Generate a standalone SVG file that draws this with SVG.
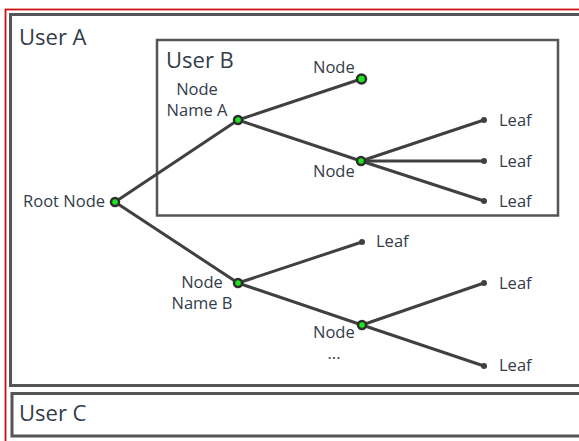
<svg xmlns="http://www.w3.org/2000/svg" width="579" height="441" viewBox="0 0 579 441">
<style>
  .frame{fill:none;stroke:#555;stroke-width:3}
  .inner{fill:none;stroke:#555;stroke-width:2.5}
  .hdr{font-family:"Open Sans","Noto Sans",sans-serif;font-size:22px;fill:#333c4a}
  .lbl{font-family:"Open Sans","Noto Sans",sans-serif;font-size:16.5px;fill:#333c4a}
  .edge{stroke:#404040;stroke-width:3;stroke-linecap:round;fill:none}
  .node{fill:#1ee61e;stroke:#2e2e2e;stroke-width:2.5}
  .leaf{fill:#404040}
</style>
<rect x="0" y="0" width="579" height="441" fill="#fff"/>
<rect x="5.5" y="9.5" width="620" height="480" fill="none" stroke="#cc1111" stroke-width="1.8"/>
<g id="userA">
  <rect class="frame" x="10.5" y="14.5" width="620" height="371"/>
  <text class="hdr" x="19" y="45">User A</text>
</g>
<g id="userB">
  <rect class="inner" x="157" y="40" width="401" height="175.5"/>
  <text class="hdr" x="166" y="68">User B</text>
</g>
<g id="userC">
  <rect class="frame" x="12" y="393.5" width="620" height="42.5"/>
  <text class="hdr" x="19" y="421">User C</text>
</g>
<g id="connectors">
  <line class="edge" x1="115" y1="202" x2="238" y2="120"/>
  <line class="edge" x1="115" y1="202" x2="238" y2="283"/>
  <line class="edge" x1="238" y1="120" x2="361" y2="79"/>
  <line class="edge" x1="238" y1="120" x2="361" y2="161"/>
  <line class="edge" x1="361" y1="161" x2="484" y2="120"/>
  <line class="edge" x1="361" y1="161" x2="484" y2="161"/>
  <line class="edge" x1="361" y1="161" x2="484" y2="201"/>
  <line class="edge" x1="238" y1="283" x2="362" y2="242"/>
  <line class="edge" x1="238" y1="283" x2="362" y2="325"/>
  <line class="edge" x1="362" y1="325" x2="484" y2="283"/>
  <line class="edge" x1="362" y1="325" x2="484" y2="366"/>
</g>
<g id="root">
  <circle class="node" cx="115" cy="202" r="4"/>
  <text class="lbl" x="105" y="207" text-anchor="end">Root Node</text>
</g>
<g id="nodeA">
  <circle class="node" cx="238" cy="120" r="4"/>
  <text class="lbl" x="197" y="95" text-anchor="middle">Node<tspan x="197" dy="21">Name A</tspan></text>
</g>
<g id="nodeA1">
  <circle class="node" cx="361.5" cy="79" r="4.5"/>
  <text class="lbl" x="313" y="73">Node</text>
</g>
<g id="nodeA2">
  <circle class="node" cx="361" cy="161" r="4"/>
  <text class="lbl" x="313" y="177">Node</text>
</g>
<g id="leafA1">
  <circle class="leaf" cx="484" cy="120" r="3"/>
  <text class="lbl" x="499" y="126">Leaf</text>
</g>
<g id="leafA2">
  <circle class="leaf" cx="484" cy="161" r="3"/>
  <text class="lbl" x="499" y="167">Leaf</text>
</g>
<g id="leafA3">
  <circle class="leaf" cx="484" cy="201" r="3"/>
  <text class="lbl" x="499" y="207">Leaf</text>
</g>
<g id="nodeB">
  <circle class="node" cx="238" cy="283" r="4"/>
  <text class="lbl" x="202" y="288" text-anchor="middle">Node<tspan x="202" dy="21">Name B</tspan></text>
</g>
<g id="leafB1">
  <circle class="leaf" cx="362" cy="242" r="3"/>
  <text class="lbl" x="376" y="247">Leaf</text>
</g>
<g id="nodeB2">
  <circle class="node" cx="362" cy="325" r="4"/>
  <text class="lbl" x="313" y="338">Node</text>
  <text class="lbl" x="334" y="359" text-anchor="middle" font-size="12">...</text>
</g>
<g id="leafB2">
  <circle class="leaf" cx="484" cy="283" r="3"/>
  <text class="lbl" x="499" y="289">Leaf</text>
</g>
<g id="leafB3">
  <circle class="leaf" cx="484" cy="366" r="3"/>
  <text class="lbl" x="499" y="371">Leaf</text>
</g>
</svg>
